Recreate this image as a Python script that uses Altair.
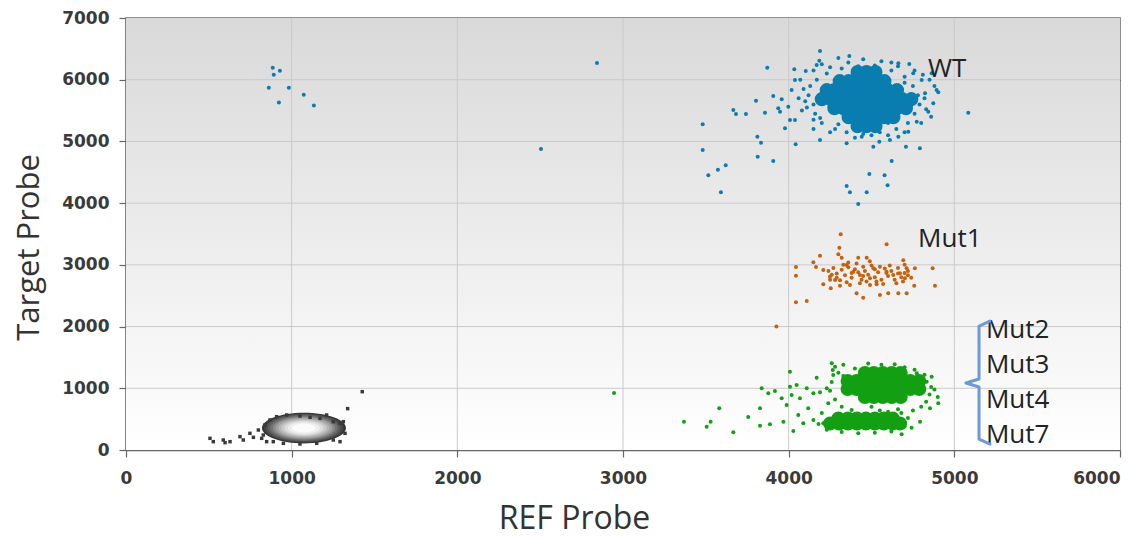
import altair as alt
import pandas as pd

# ---------------- data ----------------
X_TICKS = [0, 1000, 2000, 3000, 4000, 5000, 6000]
Y_TICKS = [0, 1000, 2000, 3000, 4000, 5000, 6000, 7000]
X_GRID = [1000, 2000, 3000, 4000, 5000]
Y_GRID = [1000, 2000, 3000, 4000, 5000, 6000]

# WT (blue) droplets: scattered points
wt_points = [
    [886, 6194], [929, 6146], [892, 6081], [862, 5871], [983, 5871], [1073, 5758],
    [923, 5629], [1134, 5581], [2505, 4877], [2843, 6271],
    [4189, 6465], [4366, 6384], [3871, 6195], [4034, 6168], [4103, 6141], [4169, 6239],
    [4185, 6309], [4662, 6266], [4728, 6255], [4863, 6104], [4893, 5833], [4903, 5796],
    [3803, 5661], [3907, 5736], [3958, 5682], [3666, 5509], [3682, 5445], [3742, 5445],
    [3857, 5466], [3937, 5536], [3948, 5482], [3481, 5277], [3811, 5077], [3833, 4980],
    [3978, 5212], [4042, 4953], [4189, 5023], [3481, 4861], [3813, 4753], [3907, 4683],
    [3620, 4613], [3573, 4542], [3515, 4451], [3591, 4175], [4350, 4278], [4370, 4175],
    [4420, 3986], [4471, 4175], [4487, 4472], [4579, 4451], [4597, 4289], [4622, 4683],
    [4708, 4915], [4792, 4888], [4722, 5158], [4662, 5077], [4873, 5618], [4843, 5482],
    [5084, 5466], [4008, 5347], [4038, 5347], [3998, 5563], [4018, 5833], [4038, 5995],
    [4350, 4970], [4441, 5077], [4511, 4915], [4547, 4996], [4611, 5023], [4773, 5320],
    [4823, 5780], [4803, 5995], [4752, 6104],
    [4130, 5900], [4150, 5600], [4120, 5750], [4160, 5450], [4200, 5300], [4280, 5200],
    [4350, 5150], [4450, 5120], [4550, 5150], [4650, 5200], [4720, 5300], [4760, 5450],
    [4790, 5600], [4780, 5750], [4750, 5900], [4700, 6050], [4620, 6150], [4520, 6230],
    [4420, 6220], [4320, 6180], [4230, 6100], [4170, 6000], [4100, 5650], [4090, 5850],
    [4190, 5380], [4400, 5060], [4500, 5100], [4600, 5100], [4820, 5700], [4830, 5520],
    [4660, 6220], [4250, 6200], [4150, 6150], [4080, 5500], [4300, 5280], [4600, 5300],
    [4700, 5950], [4560, 6300], [4360, 6280], [4850, 6000],
    [4150, 5350], [4110, 5550], [4060, 5700], [4070, 6000], [4200, 6250], [4300, 6350],
    [4450, 6330], [4620, 6280], [4760, 6150], [4810, 6080], [4880, 5900], [4860, 5400],
    [4800, 5300], [4700, 5150], [4250, 5150], [4150, 5200],
]
# WT dense core (overlapping droplets)
wt_core = [
    [4200, 5685], [4254, 5685], [4308, 5685], [4362, 5685], [4416, 5685], [4470, 5685],
    [4524, 5685], [4578, 5685], [4632, 5685], [4686, 5685], [4740, 5685],
    [4276, 5539], [4330, 5539], [4384, 5539], [4438, 5539], [4492, 5539], [4546, 5539],
    [4600, 5539], [4654, 5539], [4708, 5539],
    [4230, 5831], [4276, 5831], [4330, 5831], [4384, 5831], [4438, 5831], [4492, 5831],
    [4546, 5831], [4600, 5831], [4654, 5831],
    [4362, 5393], [4416, 5393], [4470, 5393], [4524, 5393], [4578, 5393], [4632, 5393],
    [4308, 5977], [4362, 5977], [4416, 5977], [4470, 5977], [4524, 5977], [4578, 5977],
    [4416, 5247], [4470, 5247], [4524, 5247],
    [4416, 6123], [4470, 6123], [4524, 6123],
]

# Mut1 (orange) droplets
mut1_points = [
    [3926, 2000],
    [4314, 3495], [4306, 3278], [4591, 3333], [4189, 3149], [4300, 3171], [4320, 3116],
    [4420, 3116], [4471, 3116], [4692, 3074], [4149, 3041], [4165, 2965], [4044, 2965],
    [4044, 2825], [4762, 2944], [4869, 2944], [4209, 2917], [4249, 2808], [4280, 2755],
    [4209, 2685], [4254, 2620], [4310, 2662], [4410, 2539], [4450, 2468], [4551, 2512],
    [4601, 2539], [4662, 2539], [4712, 2539], [4758, 2662], [4883, 2662], [4044, 2393],
    [4109, 2414], [4370, 2674], [4491, 2674], [4531, 2685], [4350, 2998], [4390, 2890],
    [4430, 2836], [4511, 2944], [4551, 2970], [4591, 2890], [4631, 2836], [4672, 2863],
    [4702, 2782], [4712, 2944], [4491, 2782], [4450, 2970],
    [4240, 2900], [4270, 2950], [4290, 2860], [4320, 2920], [4340, 2830], [4360, 2960],
    [4380, 2790], [4400, 2930], [4420, 2880], [4440, 2760], [4460, 2900], [4480, 2840],
    [4500, 2990], [4520, 2800], [4540, 2880], [4560, 2760], [4580, 2940], [4600, 2820],
    [4620, 2900], [4640, 2760], [4660, 2950], [4680, 2800], [4700, 2870], [4720, 2830],
    [4290, 2790], [4330, 3000], [4410, 3020], [4470, 2730], [4530, 2730], [4610, 2990],
    [4650, 2700], [4690, 2730], [4260, 2840], [4350, 2720], [4430, 2700], [4570, 2690],
    [4720, 2900], [4740, 2790], [4310, 2750], [4380, 2870], [4450, 2820], [4520, 2930],
    [4590, 2870], [4660, 2860], [4700, 3000], [4250, 2760], [4360, 3040], [4490, 3060],
]

# Mut2/3/4/7 (green) droplets
green_points = [
    [2946, 924],
    [3368, 459], [3505, 378], [3529, 459], [3581, 675], [3666, 286], [3756, 535],
    [3827, 675], [3827, 394], [3887, 416], [3837, 999], [3877, 918], [3917, 956],
    [3958, 837], [3988, 729], [3968, 459], [4008, 1269], [4008, 1026], [4018, 891],
    [4028, 308], [4048, 1053], [4058, 567], [4068, 837], [4088, 432], [4109, 999],
    [4118, 675], [4149, 918], [4169, 1172], [4189, 934], [4260, 1404], [4266, 1296],
    [4269, 1215], [4682, 254], [4742, 362], [4793, 459], [4853, 675], [4903, 756],
    [4863, 1188], [4833, 1107], [4773, 1242], [4209, 432], [4149, 486], [4239, 756],
    [4280, 1350], [4330, 1380], [4400, 1320], [4480, 1400], [4560, 1380], [4640, 1390],
    [4700, 1340], [4760, 1300], [4820, 1220], [4860, 1020], [4850, 900], [4830, 780],
    [4800, 700], [4750, 640], [4680, 600], [4600, 620], [4300, 1250], [4260, 1100],
    [4250, 960], [4280, 820], [4320, 700], [4200, 600], [4180, 420], [4230, 330],
    [4320, 290], [4420, 270], [4520, 280], [4620, 300], [4700, 380], [4720, 520],
    [4380, 650], [4500, 700], [4550, 640], [4660, 660], [4740, 1180], [4330, 1200],
    [4230, 1000], [4800, 1000], [4900, 860], [4880, 980],
]
green_core = [
    [4356, 1118], [4410, 1118], [4464, 1118], [4518, 1118], [4572, 1118], [4626, 1118],
    [4680, 1118], [4734, 1118], [4788, 1118],
    [4356, 988], [4410, 988], [4464, 988], [4518, 988], [4572, 988], [4626, 988],
    [4680, 988], [4734, 988], [4788, 988],
    [4460, 1247], [4514, 1247], [4568, 1247], [4622, 1247], [4676, 1247],
    [4460, 859], [4514, 859], [4568, 859], [4622, 859], [4676, 859],
    [4250, 430], [4304, 430], [4358, 430], [4412, 430], [4466, 430], [4520, 430],
    [4574, 430], [4628, 430], [4672, 430],
    [4300, 510], [4358, 510], [4412, 510], [4466, 510], [4520, 510],
    [4574, 510], [4628, 510],
]

# Negative (gray) droplets
neg_points = [
    [507, 189], [527, 135], [587, 162], [598, 119], [628, 135], [688, 216], [708, 162],
    [748, 270], [769, 205], [799, 324], [819, 189], [849, 135], [869, 486], [909, 540],
    [970, 567], [1050, 551], [1111, 529], [1171, 513], [1211, 567], [1251, 459],
    [1292, 432], [1312, 459], [1322, 270], [1292, 135], [1251, 162], [1151, 108],
    [1050, 97], [950, 108], [889, 135], [839, 405], [829, 243], [1426, 945], [1338, 670],
]
neg_center = [[1074, 356]]

label_text = ["WT", "Mut1", "Mut2", "Mut3", "Mut4", "Mut7"]
label_x = [4841, 4781, 5191, 5191, 5191, 5191]
label_y = [6044, 3289, 1815, 1248, 681, 113]

bracket_x = [5215, 5149, 5149, 5070, 5149, 5149, 5215]
bracket_y = [2090, 2009, 1150, 1086, 1021, 178, 97]

# ---------------- chart ----------------
W, H = 994, 432
BLUE, ORANGE, GREEN, GRAY = "#0a7db0", "#c4620f", "#12a012", "#3a3a3a"

xs = alt.Scale(domain=[0, 6000], nice=False, zero=False)
ys = alt.Scale(domain=[0, 7000], nice=False, zero=False)

x_axis = alt.Axis(
    values=X_TICKS, format="d", title="REF Probe", grid=False, labelFlush=False,
    labelOverlap=False, domainColor="#666666", domainWidth=1.5, tickColor="#666666",
    tickSize=7, tickWidth=1.2, labelFont="DejaVu Sans", labelFontWeight="bold",
    labelFontSize=17, labelColor="#3a3a3a", labelPadding=13,
    labelAlign=alt.expr("datum.value == 6000 ? 'right' : 'center'"),
    titleFont="Open Sans", titleFontSize=32, titleFontWeight="normal",
    titleColor="#333333", titleX=448, titleY=78, titleAlign="center",
    titleBaseline="alphabetic",
)
y_axis = alt.Axis(
    values=Y_TICKS, format="d", title="Target Probe", grid=False, labelFlush=False,
    labelOverlap=False, domainColor="#666666", domainWidth=1.5, tickColor="#666666",
    tickSize=7, tickWidth=1.2, labelFont="DejaVu Sans", labelFontWeight="bold",
    labelFontSize=17, labelColor="#3a3a3a", labelPadding=10, titleFont="Open Sans",
    titleFontSize=31, titleFontWeight="normal", titleColor="#333333", titleAngle=270,
    titleX=-97, titleY=229, titleAlign="center", titleBaseline="middle",
)


def df_of(pairs):
    return pd.DataFrame(pairs, columns=["ref", "target"])


def enc(chart):
    return chart.encode(
        x=alt.X("ref:Q", scale=xs, axis=x_axis),
        y=alt.Y("target:Q", scale=ys, axis=y_axis),
    )


bg = alt.Chart(pd.DataFrame({"a": [0]})).mark_rect(
    fill=alt.LinearGradient(
        gradient="linear",
        stops=[alt.GradientStop(color="#d9d9d9", offset=0),
               alt.GradientStop(color="#ececec", offset=0.5),
               alt.GradientStop(color="#ffffff", offset=1)],
        x1=0, x2=0, y1=0, y2=1,
    )
).encode(x=alt.value(0), x2=alt.value(W), y=alt.value(0), y2=alt.value(H))

grid_x = alt.Chart(pd.DataFrame({"ref": X_GRID})).mark_rule(
    color="#cacaca", strokeWidth=1
).encode(x=alt.X("ref:Q", scale=xs, axis=x_axis))
grid_y = alt.Chart(pd.DataFrame({"target": Y_GRID})).mark_rule(
    color="#cacaca", strokeWidth=1
).encode(y=alt.Y("target:Q", scale=ys, axis=y_axis))

ELLIPSE = "M-1,0A1,0.366,0,1,0,1,0A1,0.366,0,1,0,-1,0Z"
blob_widths = [84, 80, 76, 72, 67, 62, 57, 51, 45, 39, 32, 24]
blob_colors = ["#333333", "#404040", "#4f4f4f", "#606060", "#747474", "#8a8a8a",
               "#a0a0a0", "#b6b6b6", "#cbcbcb", "#dedede", "#eeeeee", "#fbfbfb"]
blobs = [
    enc(alt.Chart(df_of(neg_center)).mark_point(
        shape=ELLIPSE, size=w * w, filled=True, color=c, opacity=1, strokeWidth=0))
    for w, c in zip(blob_widths, blob_colors)
]

small = dict(size=16, opacity=1)
CORE = 200
neg_layer = enc(alt.Chart(df_of(neg_points)).mark_square(color=GRAY, size=12, opacity=1))
mut1_layer = enc(alt.Chart(df_of(mut1_points)).mark_circle(color=ORANGE, **small))
wt_core_layer = enc(alt.Chart(df_of(wt_core)).mark_circle(color=BLUE, size=CORE, opacity=1))
wt_layer = enc(alt.Chart(df_of(wt_points)).mark_circle(color=BLUE, **small))
green_core_layer = enc(alt.Chart(df_of(green_core)).mark_circle(color=GREEN, size=CORE, opacity=1))
green_layer = enc(alt.Chart(df_of(green_points)).mark_circle(color=GREEN, **small))

labels_df = pd.DataFrame({"ref": label_x, "target": label_y, "label": label_text})
labels = enc(alt.Chart(labels_df).mark_text(
    align="left", baseline="alphabetic", font="Open Sans", fontSize=26, color="#222222"
)).encode(text="label:N")

bracket_df = pd.DataFrame({"ref": bracket_x, "target": bracket_y,
                           "i": list(range(len(bracket_x)))})
bracket = enc(alt.Chart(bracket_df).mark_line(
    color="#6a9bd8", strokeWidth=3, strokeCap="round", strokeJoin="round"
)).encode(order="i:Q")

main = alt.layer(bg, grid_x, grid_y, *blobs, neg_layer, mut1_layer, wt_core_layer,
                 wt_layer, green_core_layer, green_layer, labels, bracket)

frame_axes = alt.Chart(pd.DataFrame({"ref": [0], "target": [0]})).mark_point(opacity=0).encode(
    x=alt.X("ref:Q", scale=xs, axis=alt.Axis(
        orient="top", values=X_GRID, labels=False, domain=False, grid=False, title=None,
        tickSize=7, offset=-7, tickColor="#555555", tickWidth=1.2)),
    y=alt.Y("target:Q", scale=ys, axis=alt.Axis(
        orient="right", values=Y_GRID, labels=False, domain=False, grid=False, title=None,
        tickSize=7, offset=-7, tickColor="#555555", tickWidth=1.2)),
)

chart = alt.layer(main, frame_axes).resolve_scale(
    x="independent", y="independent"
).properties(
    width=W, height=H,
    autosize=alt.AutoSizeParams(type="none"),
    padding={"left": 126, "top": 18, "right": 15, "bottom": 87},
    background="white",
).configure_view(stroke="#6a6a6a", strokeWidth=1.5)

chart.save("out.html", embed_options={"renderer": "svg", "actions": False})
